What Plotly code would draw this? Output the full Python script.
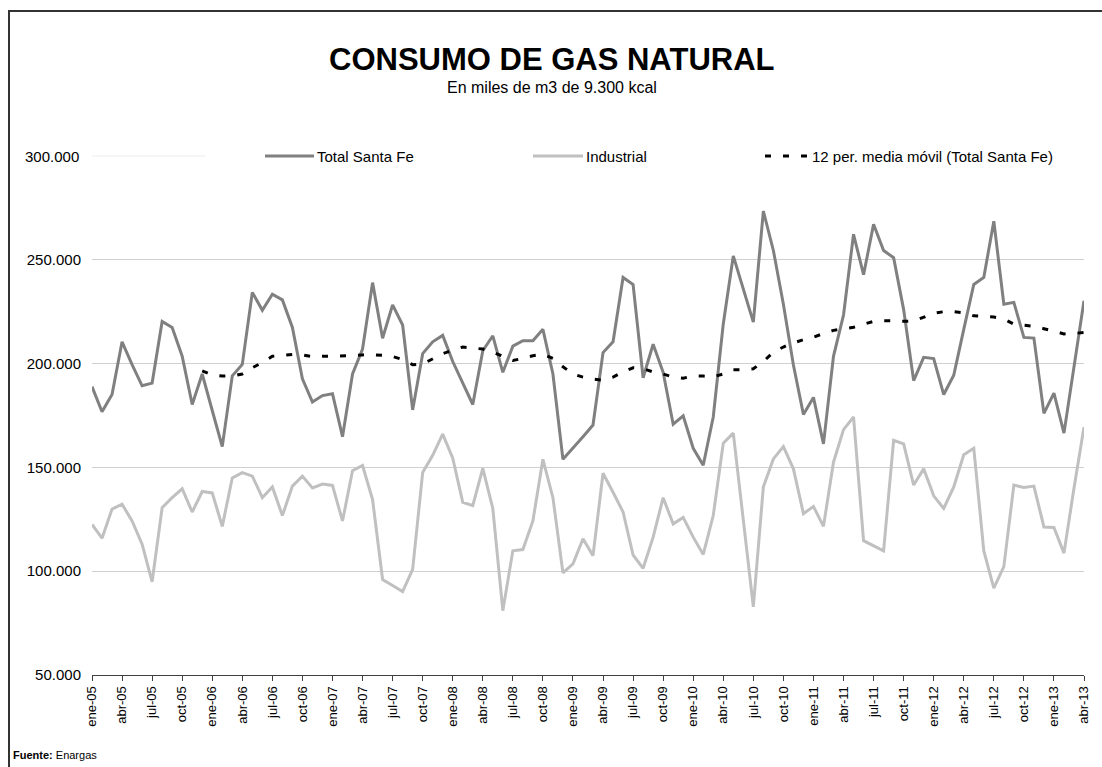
import plotly.graph_objects as go

# Monthly categories ene-05 .. abr-13
month_abbr = ["ene", "feb", "mar", "abr", "may", "jun", "jul", "ago", "sep", "oct", "nov", "dic"]
years = ["05", "06", "07", "08", "09", "10", "11", "12", "13"]
months = [f"{m}-{y}" for y in years for m in month_abbr][:100]

# Total Santa Fe (miles de m3)
total_santa_fe = [
    188900, 176800, 185100, 210500, 199500, 189300, 190600, 220300, 217400, 203600,
    180300, 195000, 177400, 160000, 194100, 199600, 234300, 225700, 233400, 230700,
    217400, 192700, 181500, 184600, 185500, 164800, 195000, 207000, 239000, 212200,
    228300, 218600, 177700, 204800, 210500, 213600, 201000, 190600, 180300, 206200,
    213400, 195800, 208400, 211000, 211000, 216500, 195000, 153900, 159600, 164800,
    170400, 205300, 210500, 241500, 238100, 193200, 209300, 195800, 170800, 174800,
    159200, 151000, 174300, 219100, 251900, 236400, 220000, 273500, 254500, 228600,
    199300, 175500, 183700, 161300, 203500, 223400, 262300, 242800, 267100, 254500,
    251000, 226000, 191800, 203000, 202400, 185100, 194400, 216500, 238100, 241500,
    268600, 228600, 229500, 212600, 212300, 176000, 185800, 166500, 198000, 230300,
]

# Industrial (miles de m3)
industrial = [
    122500, 115900, 129900, 132300, 124200, 113000, 94900, 130600, 135400, 139700,
    128500, 138400, 137700, 121600, 144900, 147500, 145800, 135400, 140600, 126800,
    141000, 145800, 140100, 142000, 141300, 124200, 148400, 150900, 134500, 96000,
    93100, 90200, 100900, 147500, 155800, 166000, 154400, 133200, 131600, 149500,
    130200, 81000, 109800, 110400, 124200, 153900, 135400, 99200, 103500, 115600,
    107500, 147200, 138000, 128500, 107800, 101400, 116400, 135400, 122800, 125900,
    116400, 108100, 126800, 161600, 166500, 125000, 82800, 140600, 154100, 160000,
    149300, 127700, 131200, 121600, 152500, 168200, 174300, 114700, 112400, 109800,
    163000, 161300, 141500, 149300, 136300, 130200, 140600, 156100, 159200, 109800,
    91900, 102200, 141500, 140300, 141000, 121300, 121100, 108700, 140000, 169500,
]

# 12 per. media movil (Total Santa Fe)
media_movil = [
    None, None, None, None, None, None, None, None, None, None,
    None, 196500, 194500, 194000, 194000, 195000, 198000, 200500, 203500, 204000,
    204400, 204200, 203300, 203500, 203500, 203600, 203800, 204200, 204300, 204000,
    203400, 202000, 199500, 199800, 202500, 204800, 206500, 208000, 207500, 207000,
    205500, 203500, 201500, 202500, 203800, 204500, 202500, 198500, 195000, 193500,
    192500, 192000, 193500, 196000, 198000, 197500, 196000, 195000, 193500, 193000,
    194000, 194000, 193600, 195000, 197000, 197000, 197500, 201000, 205500, 208000,
    210000, 211500, 212700, 214500, 216000, 216800, 217500, 219000, 220300, 220700,
    220500, 220400, 220500, 222500, 224200, 225000, 225000, 224500, 223000, 222700,
    222400, 221500, 219000, 218500, 218000, 216800, 215500, 214300, 214500, 215000,
]

y_tick_vals = [50000, 100000, 150000, 200000, 250000, 300000]
y_tick_text = ["50.000", "100.000", "150.000", "200.000", "250.000", "300.000"]
x_tick_labels = months[::3]

series_names = ["Total Santa Fe", "Industrial", "12 per. media móvil (Total Santa Fe)"]
c_total = "#808080"
c_ind = "#c0c0c0"
c_ma = "#000000"

fig = go.Figure()
fig.add_trace(go.Scatter(x=months, y=total_santa_fe, mode="lines", name=series_names[0],
                         line=dict(color=c_total, width=3), showlegend=False))
fig.add_trace(go.Scatter(x=months, y=industrial, mode="lines", name=series_names[1],
                         line=dict(color=c_ind, width=3), showlegend=False))
fig.add_trace(go.Scatter(x=months, y=media_movil, mode="lines", name=series_names[2],
                         line=dict(color=c_ma, width=3, dash="6px,12px"), showlegend=False,
                         connectgaps=False))

# page body margin is removed (see post_script), so figure coords == page coords
W, H = 1102, 767
L, R, T, B = 92, 1102 - 1084, 156, 767 - 675
pw, ph = W - L - R, H - T - B


def px(xp):
    return (xp - L) / pw


def py(yp):
    return (H - B - yp) / ph


shapes = [
    # outer frame (top and left edges; the rest lies outside the picture)
    dict(type="line", xref="paper", yref="paper", x0=px(8), x1=px(1102), y0=py(11), y1=py(11),
         line=dict(color="#333333", width=2), layer="above"),
    dict(type="line", xref="paper", yref="paper", x0=px(9), x1=px(9), y0=py(10), y1=py(767),
         line=dict(color="#333333", width=2), layer="above"),
    # faint line at 300.000
    dict(type="line", xref="paper", yref="paper", x0=0, x1=px(205), y0=1, y1=1,
         line=dict(color="#ececec", width=1)),
    # legend samples
    dict(type="line", xref="paper", yref="paper", x0=px(265), x1=px(314), y0=py(156), y1=py(156),
         line=dict(color=c_total, width=3)),
    dict(type="line", xref="paper", yref="paper", x0=px(533), x1=px(583), y0=py(156), y1=py(156),
         line=dict(color=c_ind, width=3)),
    dict(type="line", xref="paper", yref="paper", x0=px(765), x1=px(810), y0=py(156), y1=py(156),
         line=dict(color=c_ma, width=3, dash="6px,12px")),
]

font_family = "Liberation Sans, Arial, sans-serif"
annotations = [
    dict(text="<b>CONSUMO DE GAS NATURAL</b>", xref="paper", yref="paper", x=px(551), y=py(59),
         xanchor="center", yanchor="middle", showarrow=False,
         font=dict(size=31, color="#000000", family=font_family)),
    dict(text="En miles de m3 de 9.300 kcal", xref="paper", yref="paper", x=px(552), y=py(88),
         xanchor="center", yanchor="middle", showarrow=False,
         font=dict(size=16, color="#000000", family=font_family)),
    dict(text=series_names[0], xref="paper", yref="paper", x=px(315), y=py(156),
         xanchor="left", yanchor="middle", showarrow=False,
         font=dict(size=15, color="#000000", family=font_family)),
    dict(text=series_names[1], xref="paper", yref="paper", x=px(584), y=py(156),
         xanchor="left", yanchor="middle", showarrow=False,
         font=dict(size=15, color="#000000", family=font_family)),
    dict(text=series_names[2], xref="paper", yref="paper", x=px(810), y=py(156),
         xanchor="left", yanchor="middle", showarrow=False,
         font=dict(size=15, color="#000000", family=font_family)),
    dict(text="<b>Fuente:</b> Enargas", xref="paper", yref="paper", x=px(11), y=py(755),
         xanchor="left", yanchor="middle", showarrow=False,
         font=dict(size=11, color="#000000", family=font_family)),
]

fig.update_layout(
    width=W, height=H,
    margin=dict(l=L, r=R, t=T, b=B, pad=0, autoexpand=False),
    paper_bgcolor="#ffffff", plot_bgcolor="#ffffff",
    font=dict(family=font_family, color="#000000"),
    shapes=shapes, annotations=annotations,
    showlegend=False,
)
fig.update_xaxes(
    type="category", range=[0, 99], tickmode="array", tickvals=x_tick_labels, ticktext=x_tick_labels,
    tickangle=-90, ticks="outside", ticklen=5, tickcolor="#404040", showline=True,
    linecolor="#404040", linewidth=1, showgrid=False, zeroline=False, automargin=False,
    tickfont=dict(size=13, color="#000000", family=font_family),
)
fig.update_yaxes(
    range=[50000, 300000], tickmode="array", tickvals=y_tick_vals[:-1], ticktext=y_tick_text[:-1],
    showgrid=True, gridcolor="#d0d0d0", gridwidth=1, showline=False, zeroline=False, automargin=False,
    ticks="", ticklabelstandoff=10,
    tickfont=dict(size=15, color="#000000", family=font_family),
)
# 300.000 label (its gridline is hidden behind the legend in the original)
fig.add_annotation(text=y_tick_text[-1], xref="paper", yref="y", x=px(81), y=y_tick_vals[-1],
                   xanchor="right", yanchor="middle", showarrow=False,
                   font=dict(size=15, color="#000000", family=font_family))

fig.write_html(
    "out.html",
    config={"displayModeBar": False},
    post_script="document.body.style.margin='0';document.body.style.overflow='hidden';",
)
